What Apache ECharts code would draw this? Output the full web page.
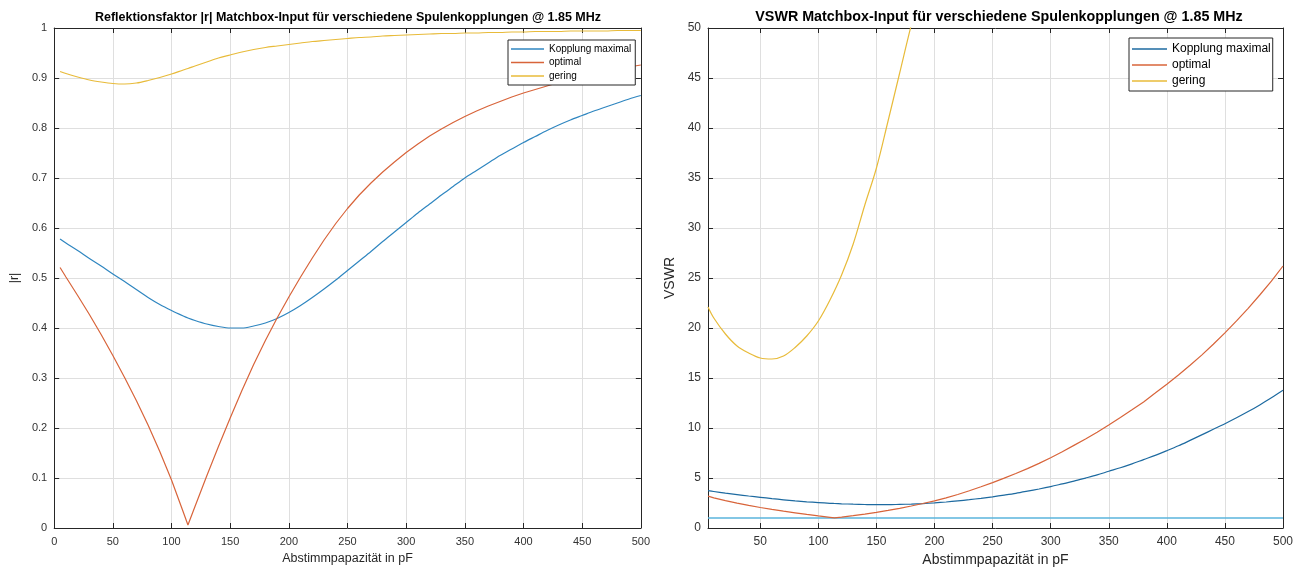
<!DOCTYPE html>
<html>
<head>
<meta charset="utf-8">
<script src="https://cdn.jsdelivr.net/npm/echarts@6/dist/echarts.min.js"></script>
<style>
html,body{margin:0;padding:0;background:#fff;}
#wrap{position:relative;width:1306px;height:573px;}
#c1{position:absolute;left:0;top:0;width:653px;height:573px;}
#c2{position:absolute;left:653px;top:0;width:653px;height:573px;}
</style>
</head>
<body>
<div id="wrap"><div id="c1"></div><div id="c2"></div></div>
<script>
// ---- data ----
const xValues = [5,10,20,30,40,50,60,70,80,90,100,110,114,120,130,140,150,160,170,180,190,200,
  210,220,230,240,250,260,270,280,290,300,310,320,330,340,350,360,370,380,390,400,
  410,420,430,440,450,460,470,480,490,500];

const rMaximal = [0.578,0.570,0.555,0.539,0.524,0.508,0.493,0.477,0.461,0.447,0.435,0.424,0.420,0.415,0.408,0.403,0.400,0.400,0.404,0.410,0.419,0.431,
  0.445,0.461,0.478,0.496,0.515,0.534,0.553,0.573,0.592,0.611,0.630,0.648,0.666,0.683,0.700,0.715,0.730,0.745,0.758,0.771,
  0.783,0.795,0.806,0.816,0.825,0.834,0.842,0.850,0.858,0.865];
const rOptimal = [0.521,0.502,0.465,0.427,0.387,0.345,0.301,0.255,0.206,0.153,0.096,0.032,0.006,0.043,0.104,0.163,0.220,0.275,0.327,0.375,0.420,0.462,
  0.502,0.540,0.576,0.609,0.639,0.666,0.690,0.712,0.732,0.751,0.768,0.784,0.798,0.811,0.823,0.834,0.844,0.853,0.862,0.870,
  0.877,0.884,0.891,0.897,0.903,0.908,0.913,0.917,0.922,0.926];
const rGering = [0.913,0.909,0.902,0.896,0.892,0.889,0.888,0.890,0.895,0.901,0.908,0.916,0.919,0.924,0.932,0.940,0.946,0.952,0.957,0.961,0.964,0.967,
  0.970,0.973,0.975,0.977,0.979,0.981,0.982,0.984,0.985,0.986,0.987,0.988,0.989,0.989,0.990,0.990,0.991,0.991,0.992,0.992,
  0.993,0.993,0.993,0.994,0.994,0.994,0.994,0.995,0.995,0.995];

const vMaximal = [3.74,3.65,3.49,3.34,3.20,3.07,2.94,2.82,2.71,2.62,2.54,2.47,2.45,2.42,2.38,2.35,2.33,2.33,2.36,2.39,2.44,2.51,
  2.60,2.71,2.83,2.97,3.12,3.29,3.47,3.68,3.90,4.14,4.41,4.68,4.99,5.31,5.67,6.02,6.41,6.84,7.26,7.73,
  8.22,8.76,9.31,9.87,10.43,11.02,11.64,12.31,13.03,13.78];
const vOptimal = [3.18,3.02,2.74,2.49,2.26,2.05,1.86,1.68,1.52,1.36,1.21,1.07,1.01,1.09,1.23,1.39,1.56,1.76,1.97,2.20,2.45,2.72,
  3.02,3.35,3.72,4.12,4.54,4.99,5.45,5.94,6.46,7.03,7.62,8.26,8.90,9.58,10.30,11.05,11.82,12.61,13.49,14.38,
  15.30,16.27,17.29,18.37,19.51,20.71,21.97,23.30,24.68,26.20];
const xGeringV = [5,10,20,30,40,50,60,70,80,90,100,110,120,130,140,150,160,170,180,190,200];
const vGering = [22.1,21.0,19.4,18.2,17.5,17.0,16.9,17.2,18.05,19.2,20.7,22.8,25.3,28.4,32.3,36.0,40.7,45.5,50.3,54.6,59.6];
const refX = [5,500];
const refV = [1,1];

const names = ['Kopplung maximal','optimal','gering'];
const xTicksRight = [50,100,150,200,250,300,350,400,450,500];

const title1 = 'Reflektionsfaktor |r| Matchbox-Input für verschiedene Spulenkopplungen @ 1.85 MHz';
const title2 = 'VSWR Matchbox-Input für verschiedene Spulenkopplungen @ 1.85 MHz';
const xName = 'Abstimmpapazität in pF';

// ---- styling ----
const COLORS = ['#2f86c0','#d8643a','#e8bb3a'];
const AX = '#262626';
const GRIDC = '#dfdfdf';
const FONT = '"Liberation Sans", Arial, Helvetica, sans-serif';

function pairs(xs, ys){ return xs.map((x,i)=>[x, ys[i]]); }

function lineSeries(name, data, color, smooth){
  return {type:'line', name:name, data:data,
    symbol:'none', showSymbol:false, smooth:smooth||false, clip:true,
    lineStyle:{color:color, width:1.2}, itemStyle:{color:color}, animation:false, z:3};
}

function frameAxes(o){
  const tick = {show:true, inside:true, length:5, lineStyle:{color:AX, width:1}};
  const line = {show:true, onZero:false, lineStyle:{color:AX, width:1}};
  const xb = {type:'value', position:'bottom', min:o.xmin, max:o.xmax,
      axisLine:line, axisTick:Object.assign({}, tick, o.xTickExtra||{}),
      axisLabel:Object.assign({color:'#333', fontSize:o.fs, fontFamily:FONT, margin:8}, o.xTickExtra||{}),
      splitLine:{show:true, lineStyle:{color:GRIDC, width:1}},
      name:xName, nameLocation:'middle', nameGap:o.xNameGap,
      nameTextStyle:{color:'#262626', fontSize:o.nfs, fontFamily:FONT}};
  const xt = {type:'value', position:'top', min:o.xmin, max:o.xmax,
      axisLine:line, axisTick:Object.assign({}, tick, o.xTickExtra||{}), axisLabel:{show:false},
      splitLine:{show:false}};
  if (o.xint) { xb.interval = o.xint; xt.interval = o.xint; }
  const yl = {type:'value', position:'left', min:o.ymin, max:o.ymax, interval:o.yint,
      axisLine:line, axisTick:tick,
      axisLabel:{color:'#333', fontSize:o.fs, fontFamily:FONT, margin:7},
      splitLine:{show:true, lineStyle:{color:GRIDC, width:1}},
      name:o.yName, nameLocation:'middle', nameGap:o.yNameGap, nameRotate:90,
      nameTextStyle:{color:'#262626', fontSize:o.nfs, fontFamily:FONT}};
  const yr = {type:'value', position:'right', min:o.ymin, max:o.ymax, interval:o.yint,
      axisLine:line, axisTick:tick, axisLabel:{show:false}, splitLine:{show:false}};
  return {xAxis:[xb,xt], yAxis:[yl,yr]};
}

function legendCfg(left, top, fs, lh, gap, iw, pad){
  return {show:true, data:names, orient:'vertical', left:left, top:top, icon:'rect',
    backgroundColor:'#fff', borderColor:AX, borderWidth:1, borderRadius:0,
    padding:pad, itemGap:gap, itemWidth:iw, itemHeight:1.3,
    textStyle:{fontSize:fs, lineHeight:lh, color:'#000', fontFamily:FONT}};
}

// ---- left chart ----
const ax1 = frameAxes({xmin:0, xmax:500, xint:50, ymin:0, ymax:1, yint:0.1, fs:11, nfs:12.5, yName:'|r|',
  xNameGap:23, yNameGap:26});
const opt1 = {
  animation:false,
  title:{text:title1, left:343, top:6, textAlign:'center',
    textStyle:{fontSize:12.5, fontWeight:'bold', color:'#000', fontFamily:FONT}},
  grid:{left:44, right:11, top:28, bottom:45, containLabel:false},
  xAxis:ax1.xAxis, yAxis:ax1.yAxis,
  legend:legendCfg(508, 40, 10, 12, 1.5, 33, [3,4,3,3]),
  series:[
    lineSeries(names[0], pairs(xValues, rMaximal), COLORS[0], 0.3),
    lineSeries(names[1], pairs(xValues, rOptimal), COLORS[1], false),
    lineSeries(names[2], pairs(xValues, rGering), COLORS[2], 0.3)
  ]
};

// ---- right chart ----
const ax2 = frameAxes({xmin:5, xmax:500, ymin:0, ymax:50, yint:5, fs:12, nfs:14, yName:'VSWR',
  xNameGap:23, yNameGap:14, xTickExtra:{customValues:xTicksRight}});
const opt2 = {
  animation:false,
  title:{text:title2, left:341, top:5, textAlign:'center',
    textStyle:{fontSize:14.3, fontWeight:'bold', color:'#000', fontFamily:FONT}},
  grid:{left:55, right:23, top:28, bottom:45, containLabel:false},
  xAxis:ax2.xAxis, yAxis:ax2.yAxis,
  legend:legendCfg(476, 38, 12, 14, 2, 35, [4,2,3,3]),
  series:[
    lineSeries(names[0], pairs(xValues, vMaximal), '#1d6aa0', 0.3),
    lineSeries(names[1], pairs(xValues, vOptimal), COLORS[1], false),
    lineSeries(names[2], pairs(xGeringV, vGering), COLORS[2], 0.35),
    {type:'line', name:'ref', data:pairs(refX, refV), symbol:'none', showSymbol:false,
     lineStyle:{color:'#5ab4dc', width:1.6}, animation:false, z:2}
  ]
};

const c1 = echarts.init(document.getElementById('c1'), null, {renderer:'canvas'});
c1.setOption(opt1);
const c2 = echarts.init(document.getElementById('c2'), null, {renderer:'canvas'});
c2.setOption(opt2);
</script>
</body>
</html>
